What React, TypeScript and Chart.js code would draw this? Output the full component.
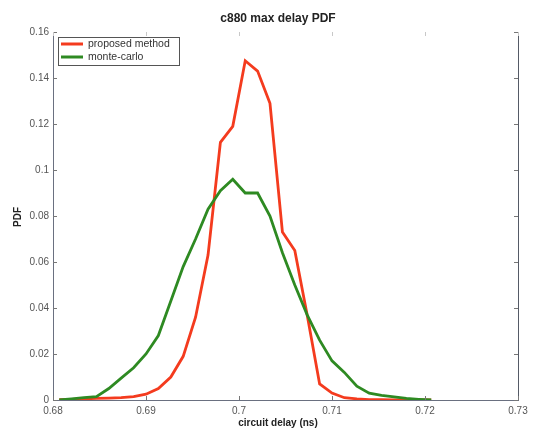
import React, { useEffect, useRef } from "react";
import { Chart, registerables } from "chart.js";

Chart.register(...registerables);

const chartTitle = "c880 max delay PDF";
const xAxisTitle = "circuit delay (ns)";
const yAxisTitle = "PDF";
const seriesNames = ["proposed method", "monte-carlo"];

const delayNs = [
  0.68067, 0.682, 0.68333, 0.68467, 0.686, 0.68733, 0.68867, 0.69, 0.69133, 0.69267,
  0.694, 0.69533, 0.69667, 0.698, 0.69933, 0.70067, 0.702, 0.70333, 0.70467, 0.706,
  0.70733, 0.70867, 0.71, 0.71133, 0.71267, 0.714, 0.71533, 0.71667, 0.718, 0.71933,
  0.72067,
];

const proposedPdf = [
  0.0002, 0.0003, 0.0005, 0.0007, 0.0008, 0.001, 0.0015, 0.0025, 0.005, 0.010,
  0.019, 0.036, 0.063, 0.112, 0.119, 0.1475, 0.143, 0.129, 0.073, 0.065,
  0.037, 0.007, 0.003, 0.001, 0.0005, 0.0002, 0.0001, 0, 0, 0,
  0,
];

const monteCarloPdf = [
  0, 0.0005, 0.001, 0.0015, 0.005, 0.0095, 0.014, 0.020, 0.028, 0.043,
  0.058, 0.070, 0.083, 0.091, 0.096, 0.090, 0.090, 0.080, 0.064, 0.050,
  0.037, 0.026, 0.017, 0.012, 0.006, 0.003, 0.002, 0.0014, 0.0007, 0.0003,
  0,
];

const xTicks = [0.68, 0.69, 0.7, 0.71, 0.72, 0.73];
const yTicks = [0, 0.02, 0.04, 0.06, 0.08, 0.1, 0.12, 0.14, 0.16];

const RED = "#f43b1e";
const GREEN = "#2e8a22";

const fmt = (v: number) => String(parseFloat(v.toFixed(2)));

const decorPlugin = {
  id: "matlabDecor",
  afterDraw(chart: any) {
    const { ctx, chartArea } = chart;
    const { left, right, top, bottom } = chartArea;
    const xs = chart.scales.x;
    const ys = chart.scales.y;
    ctx.save();
    ctx.strokeStyle = "#555a66";
    ctx.lineWidth = 1;
    ctx.beginPath();
    ctx.moveTo(right + 0.5, top);
    ctx.lineTo(right + 0.5, bottom);
    ctx.stroke();
    ctx.strokeStyle = "#777";
    ctx.beginPath();
    xTicks.forEach((v) => {
      const px = Math.round(xs.getPixelForValue(v)) + 0.5;
      ctx.moveTo(px, bottom);
      ctx.lineTo(px, bottom - 4);
    });
    yTicks.forEach((v) => {
      const py = Math.round(ys.getPixelForValue(v)) + 0.5;
      ctx.moveTo(left, py);
      ctx.lineTo(left + 4, py);
      ctx.moveTo(right, py);
      ctx.lineTo(right - 4, py);
    });
    ctx.stroke();
    ctx.strokeStyle = "#c8c8c8";
    ctx.beginPath();
    xTicks.forEach((v) => {
      const px = Math.round(xs.getPixelForValue(v)) + 0.5;
      ctx.moveTo(px, top);
      ctx.lineTo(px, top + 4);
    });
    ctx.stroke();

    ctx.fillStyle = "#222";
    ctx.textAlign = "center";
    ctx.textBaseline = "middle";
    ctx.font = "bold 12px 'Liberation Sans', Arial, sans-serif";
    ctx.fillText(chartTitle, 278, 19);
    ctx.font = "bold 10px 'Liberation Sans', Arial, sans-serif";
    ctx.fillText(xAxisTitle, 278, 423);
    ctx.save();
    ctx.translate(18, 217);
    ctx.rotate(-Math.PI / 2);
    ctx.fillText(yAxisTitle, 0, 0);
    ctx.restore();

    const lx = 58, ly = 37, lw = 121, lh = 28;
    ctx.fillStyle = "#fff";
    ctx.fillRect(lx, ly, lw, lh);
    ctx.strokeStyle = "#555";
    ctx.lineWidth = 1;
    ctx.strokeRect(lx + 0.5, ly + 0.5, lw, lh);
    const rows = [
      { name: seriesNames[0], color: RED, y: 44 },
      { name: seriesNames[1], color: GREEN, y: 57 },
    ];
    ctx.font = "10.5px 'Liberation Sans', Arial, sans-serif";
    ctx.textAlign = "left";
    rows.forEach((r) => {
      ctx.strokeStyle = r.color;
      ctx.lineWidth = 3;
      ctx.beginPath();
      ctx.moveTo(61, r.y);
      ctx.lineTo(83, r.y);
      ctx.stroke();
      ctx.fillStyle = "#333";
      ctx.fillText(r.name, 88, r.y);
    });
    ctx.restore();
  },
};

export default function App() {
  const ref = useRef<HTMLCanvasElement | null>(null);
  useEffect(() => {
    if (!ref.current) return;
    const chart = new Chart(ref.current, {
      type: "line",
      data: {
        datasets: [
          {
            label: seriesNames[1],
            data: delayNs.map((x, i) => ({ x, y: monteCarloPdf[i] })),
            borderColor: GREEN,
            borderWidth: 2.8,
            pointRadius: 0,
            tension: 0,
          },
          {
            label: seriesNames[0],
            data: delayNs.map((x, i) => ({ x, y: proposedPdf[i] })),
            borderColor: RED,
            borderWidth: 2.8,
            pointRadius: 0,
            tension: 0,
          },
        ],
      },
      options: {
        responsive: false,
        animation: false,
        layout: { padding: { top: 32, right: 20, left: 0, bottom: 0 } },
        plugins: { legend: { display: false }, title: { display: false }, tooltip: { enabled: false } },
        scales: {
          x: {
            type: "linear",
            min: 0.68,
            max: 0.73,
            afterBuildTicks: (s: any) => {
              s.ticks = xTicks.map((v) => ({ value: v }));
            },
            afterFit: (s: any) => {
              s.height = 35;
            },
            grid: { display: false, drawTicks: false, tickLength: 0 },
            border: { display: true, color: "#6a7080", width: 1 },
            ticks: {
              padding: 5,
              color: "#555",
              maxRotation: 0,
              autoSkip: false,
              font: { family: "'Liberation Sans', Arial, sans-serif", size: 10 },
              callback: (v: any) => fmt(Number(v)),
            },
          },
          y: {
            type: "linear",
            min: 0,
            max: 0.16,
            afterBuildTicks: (s: any) => {
              s.ticks = yTicks.map((v) => ({ value: v }));
            },
            afterFit: (s: any) => {
              s.width = 53;
            },
            grid: { display: false, drawTicks: false, tickLength: 0 },
            border: { display: true, color: "#6a7080", width: 1 },
            ticks: {
              padding: 4,
              color: "#555",
              autoSkip: false,
              font: { family: "'Liberation Sans', Arial, sans-serif", size: 10 },
              callback: (v: any) => fmt(Number(v)),
            },
          },
        },
      },
      plugins: [decorPlugin],
    } as any);
    return () => chart.destroy();
  }, []);
  return (
    <div style={{ position: "fixed", left: 0, top: 0, width: 538, height: 435, background: "#fff" }}>
      <canvas ref={ref} width={538} height={435} style={{ display: "block" }} />
    </div>
  );
}
